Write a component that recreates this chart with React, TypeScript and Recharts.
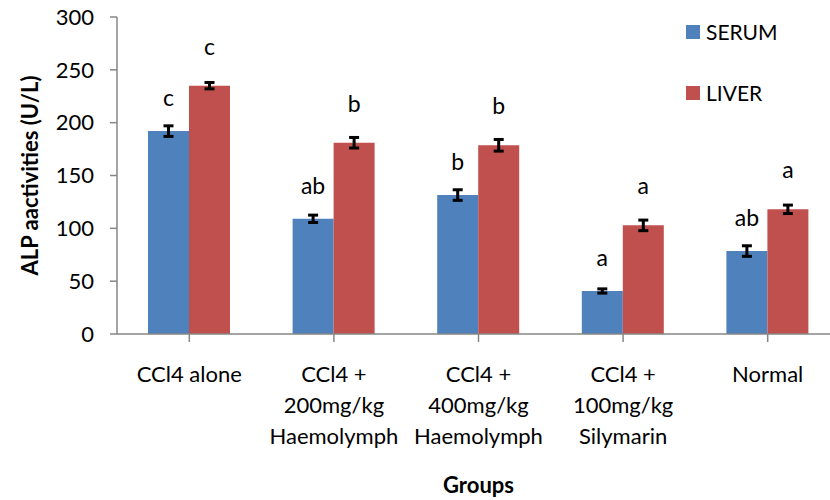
import React from "react";
import {
  BarChart,
  Bar,
  XAxis,
  YAxis,
  ErrorBar,
  LabelList,
} from "recharts";

const categories = [
  "CCl4 alone",
  "CCl4 +\n200mg/kg\nHaemolymph",
  "CCl4 +\n400mg/kg\nHaemolymph",
  "CCl4 +\n100mg/kg\nSilymarin",
  "Normal",
];
const serum = [192, 109, 131.5, 40.7, 78.5];
const serumErr = [5, 3.5, 5, 2, 5];
const serumLetters = ["c", "ab", "b", "a", "ab"];
const liver = [235, 181, 178.6, 102.8, 118];
const liverErr = [3, 5, 5.5, 5, 4];
const liverLetters = ["c", "b", "b", "a", "a"];
const yTicks = [0, 50, 100, 150, 200, 250, 300];
const seriesNames = ["SERUM", "LIVER"];

const data = categories.map((c, i) => ({
  group: c,
  SERUM: serum[i],
  serumErr: serumErr[i],
  serumLetter: serumLetters[i],
  LIVER: liver[i],
  liverErr: liverErr[i],
  liverLetter: liverLetters[i],
}));

const BLUE = "#4F81BD";
const RED = "#C0504D";
const AXIS = "#868686";
const FONT = "Lato, 'Open Sans', sans-serif";
const COLORS = [BLUE, RED];

const XTick = (props: any) => {
  const { x, y, payload } = props;
  const lines = String(payload.value).split("\n");
  return (
    <text x={x} y={y + 38} textAnchor="middle" fontSize={22} fill="#000" fontFamily={FONT}>
      {lines.map((l, i) => (
        <tspan key={i} x={x} dy={i === 0 ? 0 : 31}>
          {l}
        </tspan>
      ))}
    </text>
  );
};

const makeLetter = (offset: number) => (props: any) => {
  const { x, y, width, value } = props;
  return (
    <text
      x={x + width / 2}
      y={y - offset}
      textAnchor="middle"
      fontSize={23}
      fill="#000"
      fontFamily={FONT}
    >
      {value}
    </text>
  );
};

const YLabel = (props: any) => {
  const { viewBox } = props;
  const cx = 29;
  const cy = viewBox.y + viewBox.height / 2;
  return (
    <text
      x={cx}
      y={cy}
      transform={`rotate(-90, ${cx}, ${cy})`}
      textAnchor="middle"
      dominantBaseline="central"
      fontSize={22}
      fontWeight="bold"
      fill="#000"
      fontFamily={FONT}
    >
      ALP aactivities (U/L)
    </text>
  );
};

const XLabel = (props: any) => {
  const { viewBox } = props;
  const cx = viewBox.x + viewBox.width / 2;
  return (
    <text
      x={cx}
      y={493}
      textAnchor="middle"
      fontSize={22}
      fontWeight="bold"
      fill="#000"
      fontFamily={FONT}
    >
      Groups
    </text>
  );
};

export default function App() {
  return (
    <div
      style={{
        position: "absolute",
        left: 0,
        top: 0,
        width: 830,
        height: 500,
        overflow: "hidden",
        background: "#fff",
      }}
    >
      <BarChart
        width={840}
        height={500}
        data={data}
        margin={{ top: 17, right: 0, bottom: 66, left: 0 }}
        barGap={0}
        barSize={41}
        style={{ fontFamily: FONT }}
      >
        <XAxis
          dataKey="group"
          height={100}
          interval={0}
          tick={<XTick />}
          tickSize={8}
          axisLine={{ stroke: AXIS, strokeWidth: 1.5 }}
          tickLine={{ stroke: AXIS, strokeWidth: 1.5 }}
          label={<XLabel />}
        />
        <YAxis
          width={117}
          domain={[0, 300]}
          ticks={yTicks}
          interval={0}
          tickSize={7}
          tickMargin={16}
          tick={{ fontSize: 22, fill: "#000", fontFamily: FONT }}
          axisLine={{ stroke: AXIS, strokeWidth: 1.5 }}
          tickLine={{ stroke: AXIS, strokeWidth: 1.5 }}
          label={<YLabel />}
        />
        <Bar dataKey="SERUM" fill={BLUE} isAnimationActive={false}>
          <ErrorBar dataKey="serumErr" width={5} strokeWidth={3} stroke="#000" direction="y" />
          <LabelList dataKey="serumLetter" content={makeLetter(25)} />
        </Bar>
        <Bar dataKey="LIVER" fill={RED} isAnimationActive={false}>
          <ErrorBar dataKey="liverErr" width={5} strokeWidth={3} stroke="#000" direction="y" />
          <LabelList dataKey="liverLetter" content={makeLetter(31)} />
        </Bar>
      </BarChart>
      <div
        style={{
          position: "absolute",
          left: 686,
          top: 1,
          fontFamily: FONT,
        }}
      >
        {seriesNames.map((name, i) => (
          <div
            key={name}
            style={{ display: "flex", alignItems: "center", height: 61 }}
          >
            <div
              style={{ width: 14, height: 14, background: COLORS[i], marginRight: 6 }}
            />
            <span style={{ fontSize: 21, color: "#000", lineHeight: "21px" }}>{name}</span>
          </div>
        ))}
      </div>
    </div>
  );
}
